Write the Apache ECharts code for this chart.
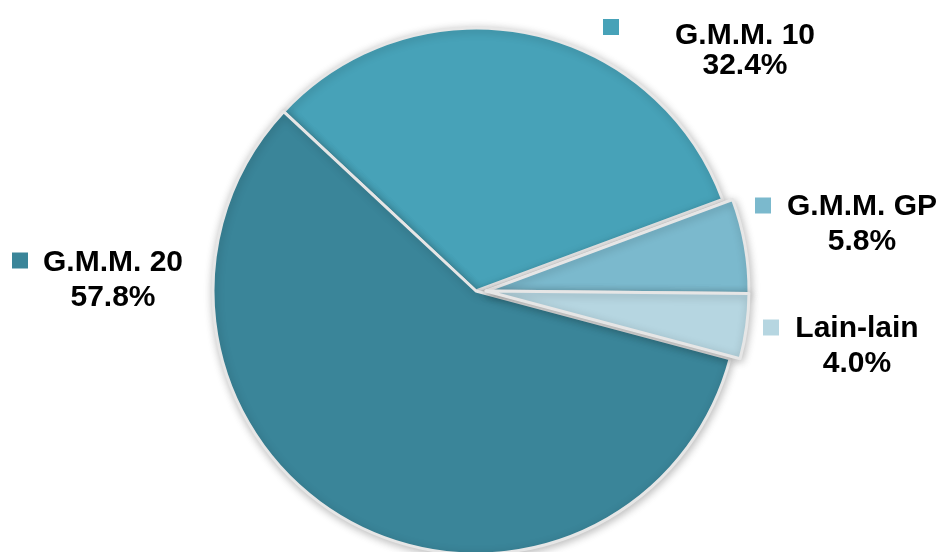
<!DOCTYPE html>
<html>
<head>
<meta charset="utf-8">
<script src="https://cdn.jsdelivr.net/npm/echarts@6/dist/echarts.min.js"></script>
<style>html,body{margin:0;padding:0;background:#fff}#c{width:944px;height:552px}</style>
</head>
<body>
<div id="c"></div>
<script>
const categories = ['G.M.M. 10', 'G.M.M. GP', 'Lain-lain', 'G.M.M. 20'];
const values = [32.4, 5.8, 4.0, 57.8];
const percentLabels = ['32.4%', '5.8%', '4.0%', '57.8%'];
const colors = ['#47a2b8', '#7bb9cd', '#b6d6e1', '#3a8599'];
const exploded = [false, true, true, false];

// label placement (style only): square left/center-y, text center x, first line center y, line spacing
const labelPlace = [
  { sx: 603, sy: 27, tx: 745, ty: 36, lh: 30 },
  { sx: 755, sy: 205.5, tx: 862, ty: 207, lh: 35 },
  { sx: 763, sy: 327.5, tx: 857, ty: 329, lh: 35 },
  { sx: 12, sy: 260.5, tx: 113, ty: 263, lh: 35 }
];

const FONT = 'Liberation Sans, Arial, sans-serif';
const CENTER = [476, 291];
const EXPLODE_CENTER = [486, 291];
const RADIUS = 263;
const hidden = { color: 'transparent', borderWidth: 0, shadowBlur: 0, shadowColor: 'transparent' };
const sliceStyle = {
  borderColor: '#e6e6e6',
  borderWidth: 3,
  shadowBlur: 8,
  shadowColor: 'rgba(0,0,0,0.25)',
  shadowOffsetX: 1,
  shadowOffsetY: 2
};

const chart = echarts.init(document.getElementById('c'));

// main pie: the slices in place + all labels
const mainData = categories.map((name, i) => ({
  name: name,
  value: values[i],
  itemStyle: exploded[i] ? hidden : { color: colors[i] },
  label: {
    formatter: name + '\n' + percentLabels[i],
    lineHeight: labelPlace[i].lh
  }
}));
// pulled-out slices
const explodedData = categories.map((name, i) => ({
  name: name,
  value: values[i],
  itemStyle: exploded[i] ? { color: colors[i] } : hidden
}));

chart.setOption({
  animation: false,
  backgroundColor: '#ffffff',
  color: colors,
  legend: categories.map((name, i) => ({
    data: [{ name: name, itemStyle: { color: colors[i] } }],
    left: labelPlace[i].sx,
    top: labelPlace[i].sy - 8,
    padding: 0,
    itemWidth: 16,
    itemHeight: 16,
    itemGap: 0,
    icon: 'rect',
    itemStyle: { borderWidth: 0, shadowBlur: 0 },
    selectedMode: false,
    formatter: () => '',
    textStyle: { fontSize: 1, padding: 0 }
  })),
  series: [{
    type: 'pie',
    center: CENTER,
    radius: RADIUS,
    startAngle: 137,
    clockwise: true,
    data: mainData,
    itemStyle: sliceStyle,
    label: {
      show: true,
      position: 'outside',
      fontSize: 30,
      fontWeight: 'bold',
      fontFamily: FONT,
      color: '#000',
      align: 'center'
    },
    labelLine: { show: false },
    labelLayout: function (params) {
      const p = labelPlace[params.dataIndex];
      return { x: p.tx, y: p.ty + p.lh / 2, align: 'center', verticalAlign: 'middle' };
    },
    emphasis: { disabled: true }
  }, {
    type: 'pie',
    center: EXPLODE_CENTER,
    radius: RADIUS,
    startAngle: 137,
    clockwise: true,
    data: explodedData,
    itemStyle: sliceStyle,
    label: { show: false },
    labelLine: { show: false },
    emphasis: { disabled: true }
  }]
});
</script>
</body>
</html>
